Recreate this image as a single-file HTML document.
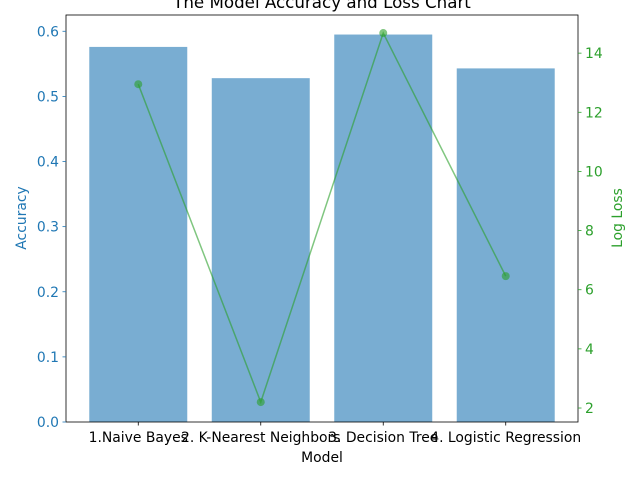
<!DOCTYPE html>
<html><head><meta charset="utf-8"><style>
body{margin:0;background:#fff}
text{font-family:"DejaVu Sans","Liberation Sans",sans-serif}
</style></head><body>
<svg id="c" width="640" height="480" xmlns="http://www.w3.org/2000/svg"></svg>
<script>
const categories=["1.Naive Bayes","2. K-Nearest Neighbors","3. Decision Tree","4. Logistic Regression"];
const accuracy=[0.576,0.528,0.595,0.543];
const logLoss=[12.95,2.2,14.68,6.46];
const leftTicks=[0,0.1,0.2,0.3,0.4,0.5,0.6];
const rightTicks=[2,4,6,8,10,12,14];

const L=66,R=578,T=15,B=422;
const NS="http://www.w3.org/2000/svg";
const svg=document.getElementById('c');
function el(t,a,txt){const e=document.createElementNS(NS,t);for(const k in a)e.setAttribute(k,a[k]);if(txt!==undefined)e.textContent=txt;svg.appendChild(e);return e;}
const xmin=-0.59,xmax=3.59;
const x=i=>L+(i-xmin)/(xmax-xmin)*(R-L);
const yL=v=>B-v/0.625*(B-T);
const rmin=1.527,rmax=15.29;
const yR=v=>B-(v-rmin)/(rmax-rmin)*(B-T);
const bw=0.8*(R-L)/(xmax-xmin);

el('text',{x:322,y:8,'text-anchor':'middle','font-size':16.7,fill:'#000'},'The Model Accuracy and Loss Chart');

accuracy.forEach((v,i)=>{
  const r=el('rect',{x:x(i)-bw/2,y:yL(v),width:bw,height:B-yL(v),fill:'#1f77b4','fill-opacity':0.6});
  
  
});
let d=logLoss.map((v,i)=>(i?'L':'M')+x(i)+' '+yR(v)).join(' ');
const ln=el('path',{d:d,stroke:'#2ca02c','stroke-opacity':0.6,'stroke-width':1.5,fill:'none'});

logLoss.forEach((v,i)=>{
  const p=el('circle',{cx:x(i),cy:yR(v),r:4,fill:'#2ca02c','fill-opacity':0.6});
  
  
});

el('rect',{x:L,y:T,width:R-L,height:B-T,fill:'none',stroke:'#000','stroke-width':0.8});

leftTicks.forEach(v=>{
  const y=yL(v);
  el('line',{x1:L-3.5,x2:L,y1:y,y2:y,stroke:'#1f77b4','stroke-width':0.8});
  const t=el('text',{x:L-7,y:y+5,'text-anchor':'end','font-size':13.9,fill:'#1f77b4'},v.toFixed(1));
  
});
rightTicks.forEach(v=>{
  const y=yR(v);
  el('line',{x1:R,x2:R+3.5,y1:y,y2:y,stroke:'#2ca02c','stroke-width':0.8});
  const t=el('text',{x:R+7,y:y+5,'font-size':13.9,fill:'#2ca02c'},String(v));
  
});
categories.forEach((c,i)=>{
  el('line',{x1:x(i),x2:x(i),y1:B,y2:B+3.5,stroke:'#000','stroke-width':0.8});
  const t=el('text',{x:x(i),y:B+20,'text-anchor':'middle','font-size':13.9,fill:'#000'},c);
  
});
el('text',{x:322,y:462,'text-anchor':'middle','font-size':13.9,fill:'#000'},'Model');
el('text',{x:26,y:218,'text-anchor':'middle','font-size':13.9,fill:'#1f77b4',transform:'rotate(-90 26 218)'},'Accuracy');
el('text',{x:622,y:218,'text-anchor':'middle','font-size':13.9,fill:'#2ca02c',transform:'rotate(-90 622 218)'},'Log Loss');
</script>
</body></html>
